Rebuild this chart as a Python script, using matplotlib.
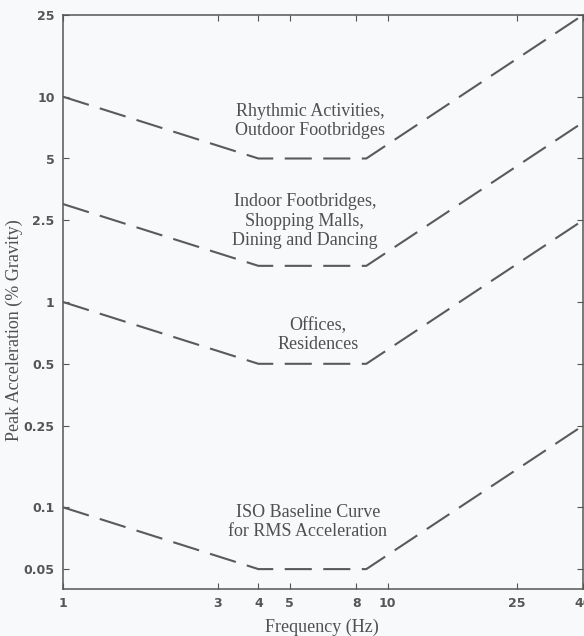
import numpy as np
import matplotlib
matplotlib.use('Agg')
import matplotlib.pyplot as plt

# Frequency breakpoints (Hz) and peak acceleration (% gravity) for each curve
freq = [1, 4, 8.6, 40]
outdoor = [10, 5, 5, 25]
indoor = [3, 1.5, 1.5, 7.5]
offices = [1, 0.5, 0.5, 2.5]
iso_base = [0.1, 0.05, 0.05, 0.25]

curve_labels = ['Rhythmic Activities,\nOutdoor Footbridges',
                'Indoor Footbridges,\nShopping Malls,\nDining and Dancing',
                'Offices,\nResidences',
                'ISO Baseline Curve\nfor RMS Acceleration']

xticks = [1, 3, 4, 5, 8, 10, 25, 40]
yticks = [0.05, 0.1, 0.25, 0.5, 1, 2.5, 5, 10, 25]

fig = plt.figure(figsize=(5.84, 6.36), dpi=100)
fig.patch.set_facecolor('#f7f9fb')
ax = fig.add_axes([63 / 584, 47 / 636, 520 / 584, 574 / 636])
ax.set_facecolor('#f7f9fb')

line_col = '#5a5a5a'
for vals in [outdoor, indoor, offices, iso_base]:
    ax.plot(freq, vals, color=line_col, lw=1.5, dashes=(13, 5.5))

ax.set_xscale('log')
ax.set_yscale('log')
ax.set_xlim(1, 40)
ax.set_ylim(0.04, 25)

ax.set_xticks(xticks)
ax.set_xticklabels([str(t) for t in xticks])
ax.set_yticks(yticks)
ax.set_yticklabels([('%g' % t) for t in yticks])
ax.minorticks_off()
ax.tick_params(which='both', direction='in', length=4, width=0.8, colors='#555555',
               top=True, right=True, labelsize=9, pad=6)
for lab in ax.get_xticklabels() + ax.get_yticklabels():
    lab.set_fontweight('bold')
    lab.set_color('#555555')
for sp in ax.spines.values():
    sp.set_color('#555555')
    sp.set_linewidth(1.1)

serif = ['Liberation Serif', 'DejaVu Serif']
pos = [(0.475, 0.815), (0.465, 0.641), (0.49, 0.4425), (0.471, 0.117)]
for (tx, ty), lab in zip(pos, curve_labels):
    ax.text(tx, ty, lab, transform=ax.transAxes, ha='center', va='center',
            fontsize=13, family=serif, color='#505050', linespacing=1.18)

fig.text(322 / 584, 1 - 627 / 636, 'Frequency (Hz)', ha='center', va='center',
         fontsize=13, family=serif, color='#505050')
fig.text(14 / 584, 1 - 330 / 636, 'Peak Acceleration (% Gravity)', ha='center', va='center',
         rotation=90, fontsize=13, family=serif, color='#505050')

fig.savefig('out.png', dpi=100, facecolor=fig.get_facecolor())
